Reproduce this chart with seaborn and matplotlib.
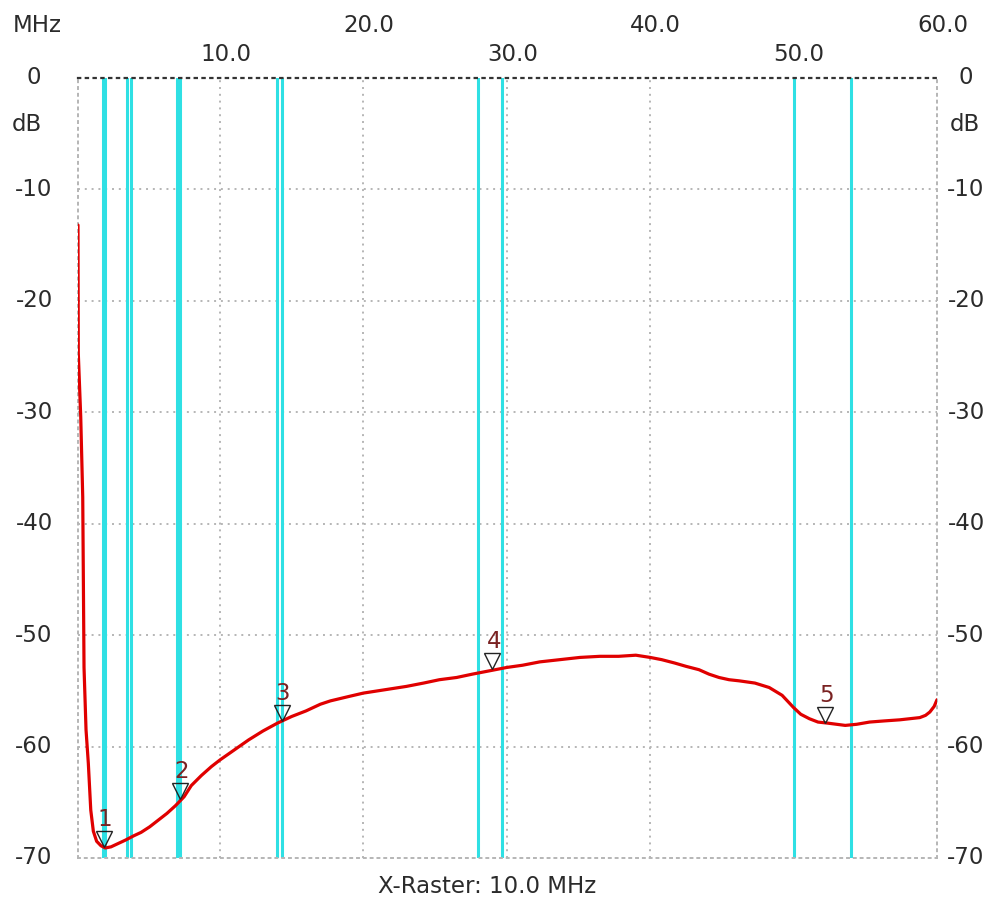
import matplotlib
matplotlib.use('Agg')
import matplotlib.pyplot as plt
import matplotlib.transforms as mtransforms
import pandas as pd
import seaborn as sns

# sweep trace
freq_mhz = [0.10, 0.12, 0.29, 0.43, 0.52, 0.66, 0.82, 0.99, 1.17, 1.4, 1.7, 2.0, 2.4, 2.9,
            3.4, 4.0, 4.5, 5.1, 5.7, 6.3, 6.9, 7.5, 8.0, 8.7, 9.4, 10.0, 11.0, 12.0, 13.0,
            14.0, 15.0, 16.0, 17.0, 17.7, 19.0, 20.0, 21.5, 23.0, 24.2, 25.3, 26.5, 27.6,
            28.8, 30.0, 31.1, 32.3, 33.7, 35.1, 36.5, 37.8, 39.0, 40.0, 40.8, 41.7, 42.5,
            43.4, 44.1, 44.8, 45.5, 46.2, 47.3, 48.3, 49.2, 50.0, 50.5, 51.1, 51.7, 52.4,
            53.0, 53.6, 54.4, 55.3, 56.3, 57.4, 58.1, 58.8, 59.2, 59.5, 59.8, 60.0]
level_db = [-13.2, -24.7, -30.4, -37.6, -52.9, -58.5, -61.5, -65.7, -67.6, -68.5, -68.9, -69.1,
            -69.0, -68.7, -68.4, -68.0, -67.7, -67.2, -66.6, -66.0, -65.3, -64.5, -63.5, -62.6,
            -61.8, -61.2, -60.3, -59.4, -58.6, -57.9, -57.3, -56.8, -56.2, -55.9, -55.5, -55.2,
            -54.9, -54.6, -54.3, -54.0, -53.8, -53.5, -53.2, -52.9, -52.7, -52.4, -52.2, -52.0,
            -51.9, -51.9, -51.8, -52.0, -52.2, -52.5, -52.8, -53.1, -53.5, -53.8, -54.0, -54.1,
            -54.3, -54.7, -55.4, -56.5, -57.1, -57.5, -57.8, -57.9, -58.0, -58.1, -58.0, -57.8,
            -57.7, -57.6, -57.5, -57.4, -57.2, -56.9, -56.4, -55.8]

# markers 1..5
marker_mhz = [1.9, 7.2, 14.3, 29.0, 52.2]
marker_db = [-69.0, -64.7, -57.7, -53.1, -57.9]

# amateur band edges (cyan lines)
band_edges = [1.81, 2.0, 3.5, 3.8, 7.0, 7.2, 14.0, 14.35, 28.0, 29.7, 50.0, 54.0]

x_ticks = [10, 20, 30, 40, 50, 60]
x_labels = ['10.0', '20.0', '30.0', '40.0', '50.0', '60.0']
y_ticks = [0, -10, -20, -30, -40, -50, -60, -70]

sns.set_style('white')
plt.rcParams['font.family'] = ['DejaVu Sans']
txt = '#2b2b2b'
fs = 16.5

fig = plt.figure(figsize=(9.86, 9.02), dpi=100)
ax = fig.add_axes([78 / 986, 1 - 858 / 902, (937 - 78) / 986, 780 / 902])
ax.set_xlim(0.1, 60)
ax.set_ylim(-70, 0)

dot = (0, (1, 2.5))
for x in x_ticks[:-1]:
    ax.axvline(x, color='#b5b5b5', lw=1.4, ls=dot, zorder=1)
for y in y_ticks[1:-1]:
    ax.axhline(y, color='#b5b5b5', lw=1.4, ls=dot, zorder=1)
for side in ['left', 'right', 'bottom']:
    ax.spines[side].set_linestyle(dot)
    ax.spines[side].set_color('#b5b5b5')
    ax.spines[side].set_linewidth(1.4)
ax.spines['top'].set_linestyle(dot)
ax.spines['top'].set_color('#333333')
ax.spines['top'].set_linewidth(1.6)

for f in band_edges:
    ax.axvline(f, color='#2fe0e4', lw=2.2, zorder=2)

df = pd.DataFrame({'MHz': freq_mhz, 'dB': level_db})
sns.lineplot(data=df, x='MHz', y='dB', ax=ax, color='#e00000', lw=2.3, sort=False,
             estimator=None, zorder=4)

tri = mtransforms.offset_copy(ax.transData, fig=fig, y=6, units='points')
ax.plot(marker_mhz, marker_db, ls='none', marker='v', ms=12, mfc='none',
        mec='#222222', mew=1.0, transform=tri, zorder=5)
for i, (f, d) in enumerate(zip(marker_mhz, marker_db), start=1):
    ax.annotate(str(i), xy=(f, d), xytext=(1, 20), textcoords='offset points',
                ha='center', va='center', fontsize=fs, color='#7a2222', zorder=6)

ax.set_xticks([])
ax.set_yticks([])
ax.set_xlabel('')
ax.set_ylabel('')

# axis texts
xtr = mtransforms.offset_copy(ax.get_xaxis_transform(), fig=fig, x=4, units='points')
for i, (x, lab) in enumerate(zip(x_ticks, x_labels)):
    yrow = 1.0295 if i % 2 == 0 else 1.0679
    ax.text(x, yrow, lab, transform=xtr, ha='center', va='center', fontsize=fs, color=txt)

ytr = ax.get_yaxis_transform()
for y in y_ticks:
    lab = str(y)
    ax.text(-0.0512, y, lab, transform=ytr, ha='center', va='center', fontsize=fs, color=txt)
    ax.text(1.0338, y, lab, transform=ytr, ha='center', va='center', fontsize=fs, color=txt)
ax.text(-0.059, -4.2, 'dB', transform=ytr, ha='center', va='center', fontsize=fs, color=txt)
ax.text(1.0326, -4.2, 'dB', transform=ytr, ha='center', va='center', fontsize=fs, color=txt)
ax.text(-0.048, 1.0679, 'MHz', transform=ax.transAxes, ha='center', va='center',
        fontsize=fs, color=txt)
ax.text(0.476, -0.037, 'X-Raster: 10.0 MHz', transform=ax.transAxes, ha='center',
        va='center', fontsize=fs, color=txt)

fig.savefig('out.png', dpi=100, facecolor='white')
